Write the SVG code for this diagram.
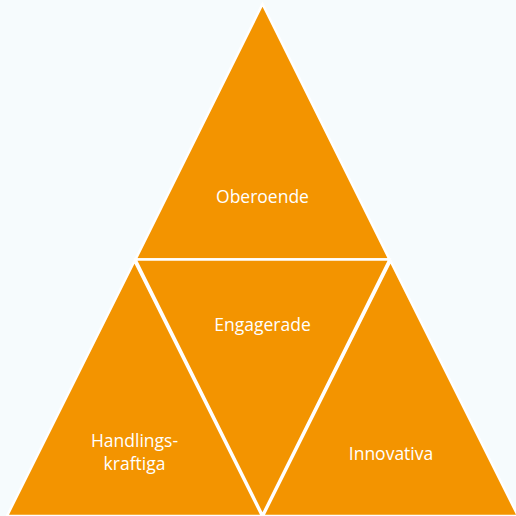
<svg xmlns="http://www.w3.org/2000/svg" width="516" height="516" viewBox="0 0 516 516">
<style>
.tri{fill:#F39400;stroke:#FFFFFF;stroke-width:2.5;stroke-linejoin:miter}
.lbl{font-family:"Open Sans","Noto Sans",sans-serif;font-size:17.5px;fill:#FFFFFF;text-anchor:middle}
</style>
<rect width="516" height="516" fill="#F6FBFD"/>
<g id="top">
<polygon class="tri" points="262.5,4 135.5,259.5 389.5,259.5"/>
<text class="lbl" x="262.5" y="203">Oberoende</text>
</g>
<g id="middle">
<polygon class="tri" points="135.5,259.5 389.5,259.5 262.5,515"/>
<text class="lbl" x="262.5" y="331">Engagerade</text>
</g>
<g id="left">
<polygon class="tri" points="134.5,261 7,516 262,516"/>
<text class="lbl" x="134.5" y="446.5">Handlings-<tspan x="134.5" dy="23.5">kraftiga</tspan></text>
</g>
<g id="right">
<polygon class="tri" points="390.5,261 263,516 518,516"/>
<text class="lbl" x="391" y="460">Innovativa</text>
</g>
<g id="connectors"/>
</svg>
